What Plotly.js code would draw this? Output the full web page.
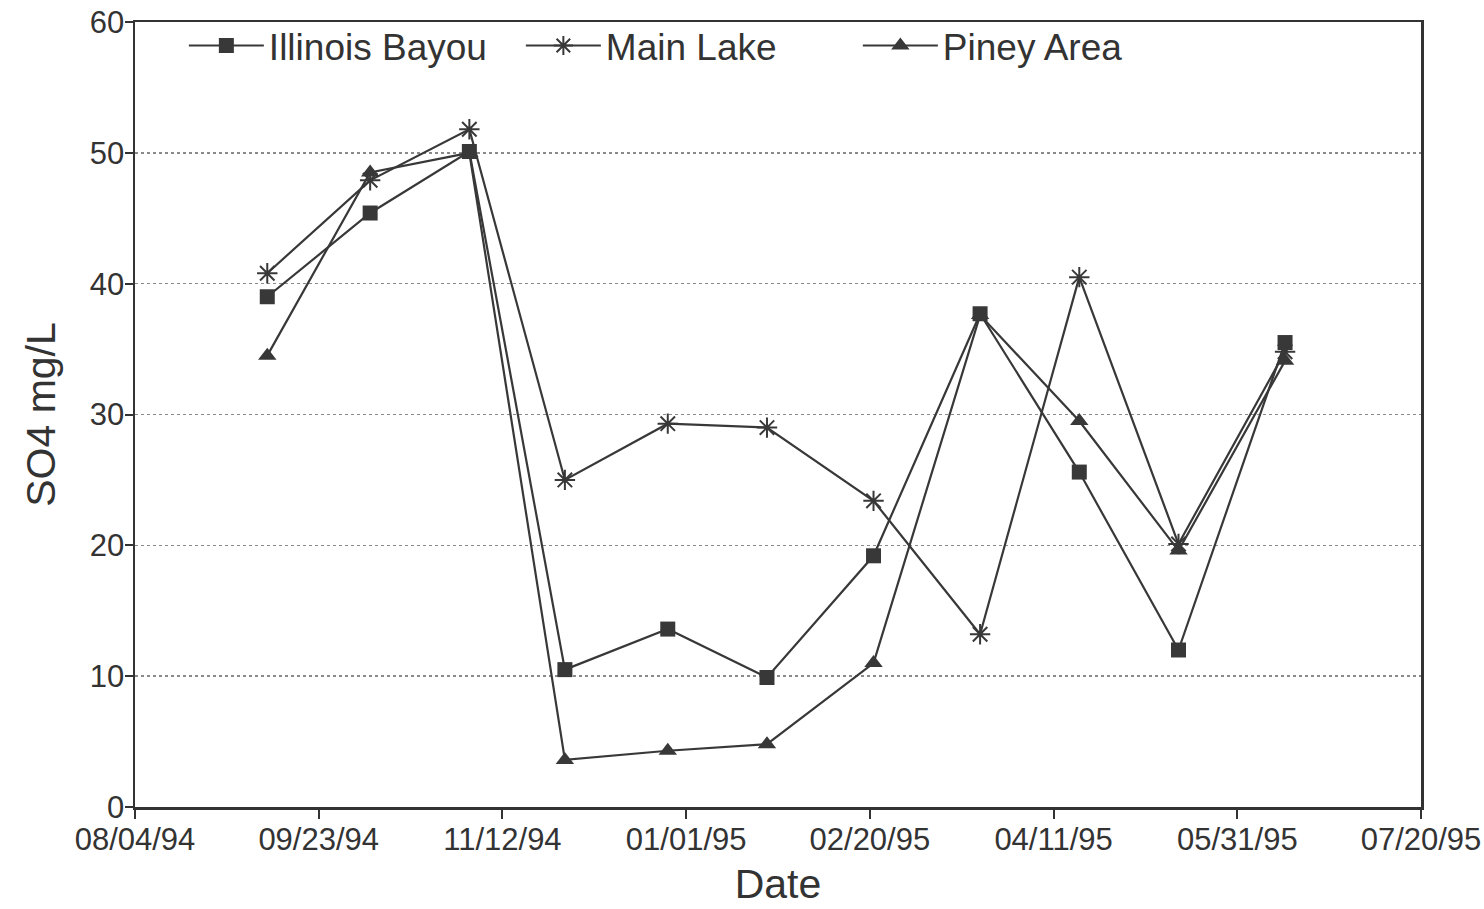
<!DOCTYPE html>
<html>
<head>
<meta charset="utf-8">
<script src="https://cdn.plot.ly/plotly-3.0.1.min.js"></script>
<style>
  html, body { margin: 0; padding: 0; background: #ffffff; }
  #chart { width: 1484px; height: 909px; }
</style>
</head>
<body>
<div id="chart"></div>
<script>
// Sampling dates (1994-1995)
const sampleDates = [
  '1994-09-09', '1994-10-07', '1994-11-03', '1994-11-29', '1994-12-27',
  '1995-01-23', '1995-02-21', '1995-03-22', '1995-04-18', '1995-05-15',
  '1995-06-13'
];

// Sulfate concentration, mg/L
const illinoisBayou = [39.0, 45.4, 50.1, 10.5, 13.6, 9.9, 19.2, 37.7, 25.6, 12.0, 35.5];
const mainLake      = [40.8, 47.9, 51.8, 25.0, 29.3, 29.0, 23.4, 13.2, 40.5, 20.1, 34.8];
const pineyArea     = [34.5, 48.5, 50.0, 3.6, 4.3, 4.8, 11.0, 37.6, 29.5, 19.6, 34.1];

const seriesNames = ['Illinois Bayou', 'Main Lake', 'Piney Area'];

const ink = '#383838';
const fontFamily = '"Liberation Sans", Arial, Helvetica, sans-serif';

const traces = [
  {
    x: sampleDates, y: illinoisBayou, name: seriesNames[0],
    type: 'scatter', mode: 'lines+markers',
    line: { color: ink, width: 2.2 },
    marker: { symbol: 'square', size: 15, color: ink }
  },
  {
    x: sampleDates, y: mainLake, name: seriesNames[1],
    type: 'scatter', mode: 'lines+markers',
    line: { color: ink, width: 2.2 },
    marker: { symbol: 'asterisk-open', size: 17, color: ink, line: { color: ink, width: 2 } }
  },
  {
    x: sampleDates, y: pineyArea, name: seriesNames[2],
    type: 'scatter', mode: 'lines+markers',
    line: { color: ink, width: 2.2 },
    marker: { symbol: 'triangle-up', size: 16, color: ink }
  }
];

const layout = {
  width: 1484,
  height: 909,
  margin: { l: 135, r: 63, t: 22, b: 102 },
  paper_bgcolor: '#ffffff',
  plot_bgcolor: '#ffffff',
  font: { family: fontFamily, color: '#333333', size: 30 },
  showlegend: true,
  legend: {
    orientation: 'h',
    x: 0.038, xanchor: 'left',
    y: 1.009, yanchor: 'top',
    bgcolor: 'rgba(255,255,255,0)',
    font: { family: fontFamily, size: 37, color: '#333333' },
    itemwidth: 75,
    entrywidth: 247,
    entrywidthmode: 'pixels',
    traceorder: 'normal'
  },
  xaxis: {
    type: 'date',
    range: ['1994-08-04', '1995-07-20'],
    tick0: '1994-08-04',
    dtick: 50 * 24 * 60 * 60 * 1000,
    tickformat: '%m/%d/%y',
    ticks: 'outside',
    ticklen: 9,
    tickwidth: 2,
    tickcolor: '#333333',
    ticklabelstandoff: -6,
    showline: true,
    linecolor: '#333333',
    linewidth: 2.5,
    mirror: true,
    showgrid: false,
    zeroline: false,
    tickfont: { family: fontFamily, size: 31, color: '#333333' },
    title: { text: 'Date', font: { family: fontFamily, size: 41, color: '#333333' }, standoff: 14 }
  },
  yaxis: {
    range: [0, 60],
    tick0: 0,
    dtick: 10,
    ticks: 'outside',
    ticklen: 8,
    tickwidth: 2,
    tickcolor: '#333333',
    ticklabelstandoff: -6,
    showline: true,
    linecolor: '#333333',
    linewidth: 2.5,
    mirror: true,
    showgrid: true,
    gridcolor: '#8a8a8a',
    gridwidth: 1.5,
    griddash: 'dot',
    zeroline: false,
    tickfont: { family: fontFamily, size: 31, color: '#333333' },
    title: { text: 'SO4 mg/L', font: { family: fontFamily, size: 41, color: '#333333' }, standoff: 22 }
  }
};

Plotly.newPlot('chart', traces, layout, { displayModeBar: false, staticPlot: true });
</script>
</body>
</html>
